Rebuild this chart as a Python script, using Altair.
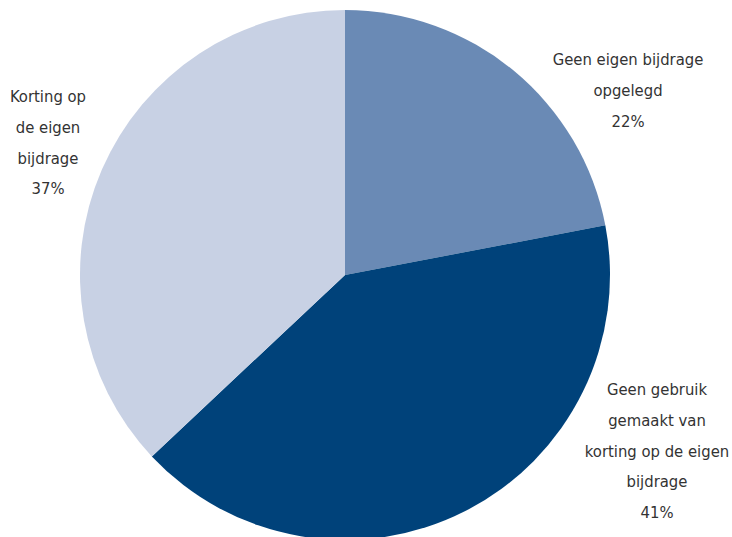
import altair as alt
import pandas as pd

categories = ["Geen eigen bijdrage opgelegd",
              "Geen gebruik gemaakt van korting op de eigen bijdrage",
              "Korting op de eigen bijdrage"]
values = [22, 41, 37]
colors = ["#6a8ab5", "#00427a", "#c8d1e4"]
label_lines = [
    ["Geen eigen bijdrage", "opgelegd", "22%"],
    ["Geen gebruik", "gemaakt van", "korting op de eigen", "bijdrage", "41%"],
    ["Korting op", "de eigen", "bijdrage", "37%"],
]

df = pd.DataFrame({"cat": categories, "val": values, "order": [0, 1, 2]})

CX, CY, R = 345, 275, 265
FONT = "DejaVu Sans Condensed"

pie = alt.Chart(df).mark_arc(radius=R, stroke=None).encode(
    theta=alt.Theta("val:Q", stack=True),
    order=alt.Order("order:Q"),
    color=alt.Color("cat:N", scale=alt.Scale(domain=categories, range=colors), legend=None),
    x=alt.value(CX),
    y=alt.value(CY),
)

label_pos = [(628, 60), (657, 390), (48, 97)]
layers = [pie]
for lines, (lx, ly) in zip(label_lines, label_pos):
    ldf = pd.DataFrame({"t": [lines]})
    layers.append(
        alt.Chart(ldf).mark_text(
            font=FONT, fontSize=16.5, color="#333333", align="center",
            baseline="middle", lineHeight=30.8,
        ).encode(text="t", x=alt.value(lx), y=alt.value(ly))
    )

chart = alt.layer(*layers).properties(
    width=732, height=537, padding=0, autosize=alt.AutoSizeParams(type="none"),
    background="white",
).configure_view(stroke=None)

chart.save("out.html", embed_options={"renderer": "svg", "actions": False})
